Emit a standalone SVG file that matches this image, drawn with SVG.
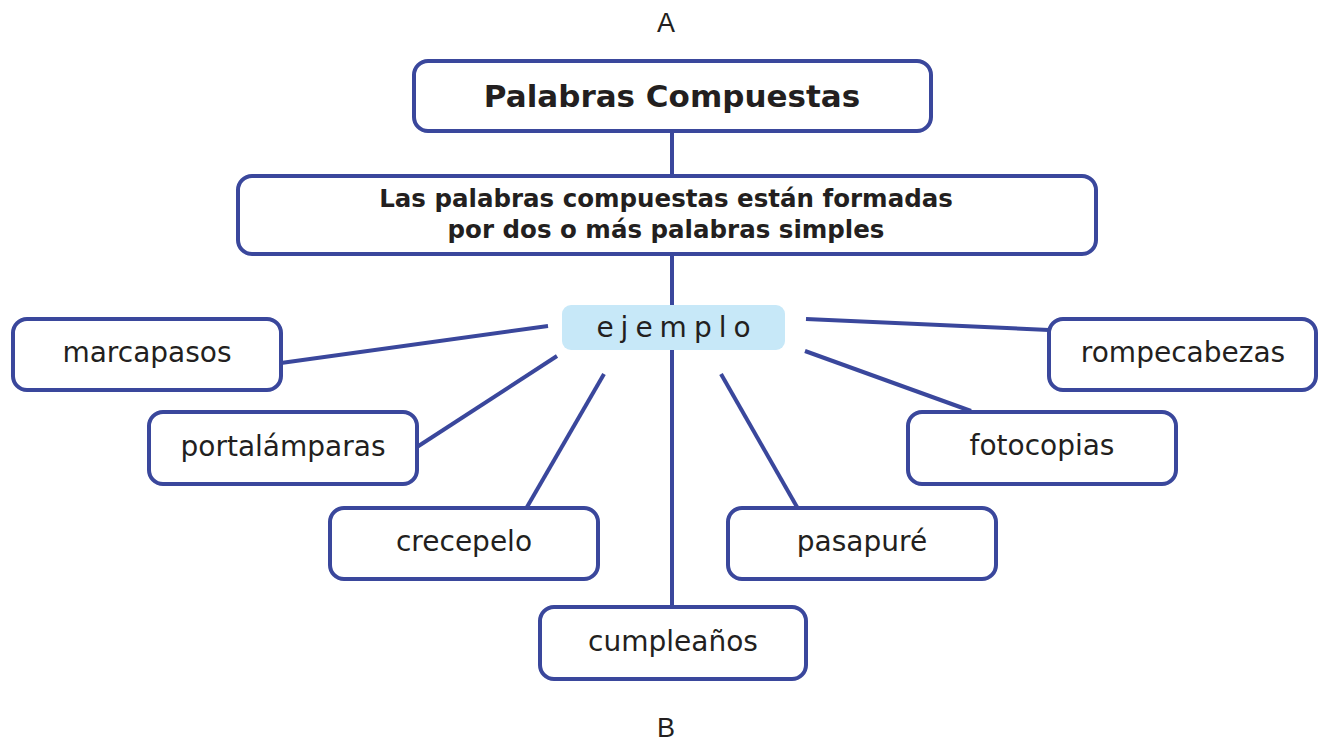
<svg xmlns="http://www.w3.org/2000/svg" width="1326" height="744" viewBox="0 0 1326 744">
<style>
.box{fill:#fff;stroke:#3a479c;stroke-width:4}
.ln{stroke:#3a479c;stroke-width:4;fill:none}
text{font-family:"DejaVu Sans","Liberation Sans",sans-serif;fill:#231f20;text-anchor:middle}
.n{font-size:28px}
.t{font-size:31px;font-weight:bold}
.d{font-size:24.5px;font-weight:bold}
.l{font-size:27px;font-family:"Liberation Sans",sans-serif}
</style>
<rect width="1326" height="744" fill="#fff"/>
<g id="connectors">
<line class="ln" x1="672" y1="131" x2="672" y2="175"/>
<line class="ln" x1="672" y1="254" x2="672" y2="607"/>
<line class="ln" x1="281" y1="363" x2="548" y2="326"/>
<line class="ln" x1="417" y1="447" x2="557" y2="356"/>
<line class="ln" x1="527" y1="507" x2="604" y2="374"/>
<line class="ln" x1="797" y1="507" x2="721" y2="374"/>
<line class="ln" x1="971" y1="411" x2="805" y2="351"/>
<line class="ln" x1="1049" y1="330" x2="806" y2="319"/>
</g>
<g id="labelA"><text class="l" x="666" y="32">A</text></g>
<g id="labelB"><text class="l" x="666" y="737">B</text></g>
<g id="title"><rect class="box" x="414" y="61" width="517" height="70" rx="14"/><text class="t" x="672" y="107">Palabras Compuestas</text></g>
<g id="def"><rect class="box" x="238" y="176" width="858" height="78" rx="14"/><text class="d" x="666" y="207">Las palabras compuestas están formadas</text><text class="d" x="666" y="238">por dos o más palabras simples</text></g>
<g id="ejemplo"><rect x="562" y="305" width="223" height="45" rx="9" fill="#c7e8f8"/><text class="n" x="677" y="337" letter-spacing="7">ejemplo</text></g>
<g id="marcapasos"><rect class="box" x="13" y="319" width="268" height="71" rx="14"/><text class="n" x="147" y="362">marcapasos</text></g>
<g id="portalamparas"><rect class="box" x="149" y="412" width="268" height="72" rx="14"/><text class="n" x="283" y="456">portalámparas</text></g>
<g id="crecepelo"><rect class="box" x="330" y="508" width="268" height="71" rx="14"/><text class="n" x="464" y="551">crecepelo</text></g>
<g id="cumpleanos"><rect class="box" x="540" y="607" width="266" height="72" rx="14"/><text class="n" x="673" y="651">cumpleaños</text></g>
<g id="pasapure"><rect class="box" x="728" y="508" width="268" height="71" rx="14"/><text class="n" x="862" y="551">pasapuré</text></g>
<g id="fotocopias"><rect class="box" x="908" y="412" width="268" height="72" rx="14"/><text class="n" x="1042" y="455">fotocopias</text></g>
<g id="rompecabezas"><rect class="box" x="1049" y="319" width="267" height="71" rx="14"/><text class="n" x="1183" y="362">rompecabezas</text></g>
</svg>
